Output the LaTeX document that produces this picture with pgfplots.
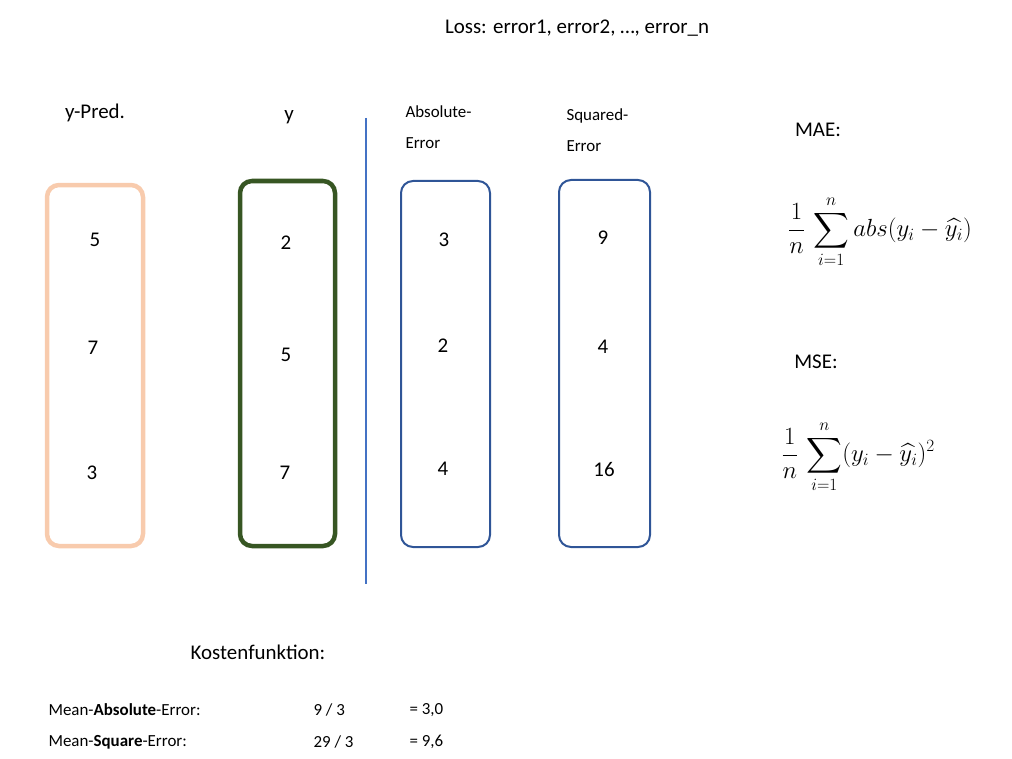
\documentclass[border=0pt]{standalone}
\usepackage{pgfplots}
\pgfplotsset{compat=1.18}
\usepackage{amsmath}
\usepackage{fontspec}
\setmainfont{Carlito}
\definecolor{orng}{HTML}{F8CBAD}
\definecolor{grn}{HTML}{375623}
\definecolor{blu}{HTML}{2F5597}
\definecolor{lblu}{HTML}{4472C4}
\begin{document}
\begin{tikzpicture}
\begin{axis}[width=1012bp,height=759bp,scale only axis,xmin=0,xmax=1012,ymin=0,ymax=759,
 y dir=reverse,hide axis,clip=false,enlargelimits=false]
\addplot[only marks,mark=none,point meta=explicit symbolic,
 nodes near coords,nodes near coords style={anchor=center,font=\fontsize{21}{24}\selectfont,text=black}]
 coordinates {(95,240)[5] (93,348)[7] (92,473)[3]
 (286,243)[2] (286,355)[5] (285,473)[7]
 (444,240)[3] (443,346)[2] (443,469)[4]
 (603,238)[9] (603,347)[4] (604,470)[16]};
\coordinate (BL) at (axis cs:0,759);
\coordinate (TR) at (axis cs:1012,0);
\draw[orng,line width=4.5bp,rounded corners=12bp] (axis cs:47,185) rectangle (axis cs:143,546);
\draw[grn,line width=4.5bp,rounded corners=12bp] (axis cs:240,181) rectangle (axis cs:335,546);
\draw[blu,line width=2bp,rounded corners=12bp] (axis cs:401,181) rectangle (axis cs:490,547);
\draw[blu,line width=2bp,rounded corners=12bp] (axis cs:559,180) rectangle (axis cs:650,547);
\draw[lblu,line width=2bp] (axis cs:366,118) -- (axis cs:366,584);
\node[font=\fontsize{21}{24}\selectfont] at (axis cs:577,28) {Loss: error1, error2, \dots, error\_n};
\node[font=\fontsize{21}{24}\selectfont] at (axis cs:95,113) {y-Pred.};
\node[font=\fontsize{21}{24}\selectfont] at (axis cs:289,117) {y};
\node[font=\fontsize{17}{20}\selectfont,anchor=west] at (axis cs:402,112) {Absolute-};
\node[font=\fontsize{17}{20}\selectfont,anchor=west] at (axis cs:402,143) {Error};
\node[font=\fontsize{17}{20}\selectfont,anchor=west] at (axis cs:563,116) {Squared-};
\node[font=\fontsize{17}{20}\selectfont,anchor=west] at (axis cs:563,146) {Error};
\node[font=\fontsize{21}{24}\selectfont] at (axis cs:818,130) {MAE:};
\node[font=\fontsize{21}{24}\selectfont] at (axis cs:816,362) {MSE:};
\node[font=\fontsize{24}{28}\selectfont] at (axis cs:880,232) {$\displaystyle\frac{1}{n}\,\sum_{i=1}^{n} abs(y_i-\widehat{y_i})$};
\node[font=\fontsize{24}{28}\selectfont] at (axis cs:858,457) {$\displaystyle\frac{1}{n}\,\sum_{i=1}^{n} (y_i-\widehat{y_i})^2$};
\node[font=\fontsize{21}{24}\selectfont] at (axis cs:258,652) {Kostenfunktion:};
\node[font=\fontsize{17}{20}\selectfont,anchor=west] at (axis cs:45,710) {Mean-\textbf{Absolute}-Error:};
\node[font=\fontsize{17}{20}\selectfont,anchor=west] at (axis cs:45,742) {Mean-\textbf{Square}-Error:};
\node[font=\fontsize{17}{20}\selectfont,anchor=west] at (axis cs:310,710) {9 / 3};
\node[font=\fontsize{17}{20}\selectfont,anchor=west] at (axis cs:310,742) {29 / 3};
\node[font=\fontsize{17}{20}\selectfont,anchor=west] at (axis cs:406,710) {= 3,0};
\node[font=\fontsize{17}{20}\selectfont,anchor=west] at (axis cs:406,742) {= 9,6};
\end{axis}
\pgfresetboundingbox
\path[use as bounding box] (BL) rectangle (TR);
\end{tikzpicture}
\end{document}
